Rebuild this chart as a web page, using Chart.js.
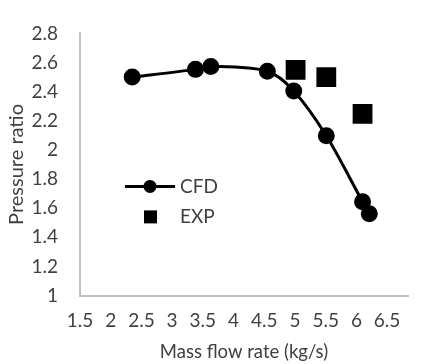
<!DOCTYPE html>
<html>
<head>
<meta charset="utf-8">
<script src="https://cdn.jsdelivr.net/npm/chart.js@4"></script>
<style>
  html, body { margin: 0; padding: 0; background: #fff; overflow: hidden; }
</style>
</head>
<body>
<canvas id="myChart" width="422" height="364"></canvas>
<script>
// values
const cfdX = [2.35, 3.38, 3.63, 4.55, 4.98, 5.51, 6.10, 6.21];
const cfdY = [2.50, 2.553, 2.573, 2.54, 2.405, 2.097, 1.644, 1.562];
const expX = [5.01, 5.51, 6.10];
const expY = [2.55, 2.50, 2.247];
const xTicks = [1.5, 2, 2.5, 3, 3.5, 4, 4.5, 5, 5.5, 6, 6.5];
const yTicks = [1, 1.2, 1.4, 1.6, 1.8, 2, 2.2, 2.4, 2.6, 2.8];

const FONT = 'Lato, "Open Sans", sans-serif';
const TEXT = '#404040';
const AXIS = '#c0c0c0';

// legend sits inside the plot, left side, like the original
const insideLegend = {
    id: 'insideLegend',
    afterDatasetsDraw(chart) {
        const ctx = chart.ctx;
        const a = chart.chartArea;
        const x0 = a.left + 45;
        const y0 = a.top + 153;
        ctx.save();
        ctx.fillStyle = '#000';
        ctx.strokeStyle = '#000';
        ctx.lineWidth = 3;
        ctx.beginPath();
        ctx.moveTo(x0, y0);
        ctx.lineTo(x0 + 50, y0);
        ctx.stroke();
        ctx.beginPath();
        ctx.arc(x0 + 25, y0, 6.5, 0, Math.PI * 2);
        ctx.fill();
        ctx.fillRect(x0 + 19, y0 + 24, 13, 13);
        ctx.fillStyle = TEXT;
        ctx.font = '19px ' + FONT;
        ctx.textBaseline = 'middle';
        ctx.fillText(chart.data.datasets[0].label, x0 + 55, y0);
        ctx.fillText(chart.data.datasets[1].label, x0 + 55, y0 + 30);
        ctx.restore();
    }
};

const fmt = (v) => String(Number(v.toFixed(2)));

const ctx = document.getElementById('myChart');
new Chart(ctx, {
    type: 'scatter',
    data: {
        datasets: [
            {
                label: 'CFD',
                data: cfdX.map((x, i) => ({ x: x, y: cfdY[i] })),
                showLine: true,
                borderColor: '#000',
                backgroundColor: '#000',
                borderWidth: 3,
                tension: 0.3,
                pointRadius: 7,
                pointStyle: 'circle',
            },
            {
                label: 'EXP',
                data: expX.map((x, i) => ({ x: x, y: expY[i] })),
                showLine: false,
                borderColor: '#000',
                backgroundColor: '#000',
                pointStyle: 'rect',
                pointRadius: 14,
                borderWidth: 0,
            },
        ],
    },
    options: {
        responsive: false,
        animation: false,
        layout: { padding: { top: 19, right: 0, left: 0, bottom: 0 } },
        plugins: {
            legend: { display: false },
            tooltip: { enabled: false },
        },
        scales: {
            x: {
                type: 'linear',
                min: 1.5,
                max: 6.84,
                afterBuildTicks: (scale) => { scale.ticks = xTicks.map(v => ({ value: v })); },
                afterFit: (scale) => { scale.height = 68.5; },
                grid: { display: false, drawTicks: false },
                border: { display: true, color: AXIS, width: 2 },
                ticks: {
                    padding: 14,
                    color: TEXT,
                    font: { family: FONT, size: 19 },
                    maxRotation: 0,
                    autoSkip: false,
                    callback: fmt,
                },
                title: {
                    display: true,
                    text: 'Mass flow rate (kg/s)',
                    color: TEXT,
                    font: { family: FONT, size: 18.5 },
                    padding: { top: 0, bottom: 1 },
                },
            },
            y: {
                min: 1,
                max: 2.8,
                afterBuildTicks: (scale) => { scale.ticks = yTicks.map(v => ({ value: v })); },
                afterFit: (scale) => { scale.width = 80; },
                grid: { display: false, drawTicks: false },
                border: { display: true, color: AXIS, width: 2 },
                ticks: {
                    padding: 22,
                    color: TEXT,
                    font: { family: FONT, size: 19 },
                    callback: fmt,
                },
                title: {
                    display: true,
                    text: 'Pressure ratio',
                    color: TEXT,
                    font: { family: FONT, size: 20 },
                    padding: { top: 5, bottom: 0 },
                },
            },
        },
    },
    plugins: [insideLegend],
});
</script>
</body>
</html>
